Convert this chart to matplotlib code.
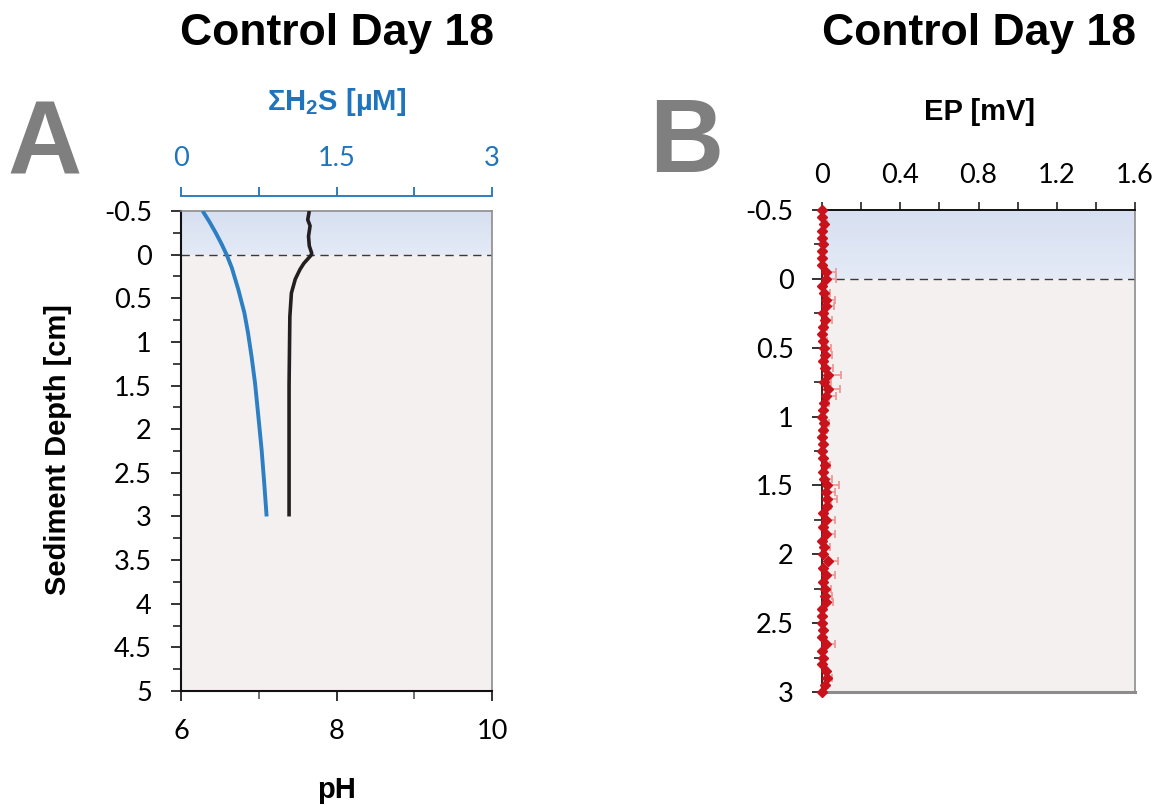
import numpy as np
import matplotlib
matplotlib.use("Agg")
import matplotlib.pyplot as plt
from matplotlib.colors import LinearSegmentedColormap

plt.rcParams["font.family"] = ["Lato", "DejaVu Sans"]
plt.rcParams["axes.unicode_minus"] = False
plt.rcParams["mathtext.fontset"] = "custom"
plt.rcParams["mathtext.rm"] = "Liberation Sans:bold"
plt.rcParams["mathtext.bf"] = "Liberation Sans:bold"
plt.rcParams["mathtext.default"] = "bf"

BOLD = "Liberation Sans"
BLUE = "#1f74bb"
LINE_BLUE = "#2b7fc2"
GRAY_SPINE = "#8c8c8c"
WATER_TOP = "#d7e0f1"
WATER_BOT = "#e4eaf6"
SED = "#f4f0ef"
TICK_FS = 19.5

# ── panel A data ──
h2s_depth = [-0.5, -0.375, -0.25, -0.125, 0.0, 0.15, 0.4, 0.67, 0.9, 1.17, 1.47, 1.85, 2.24, 2.62, 3.0]
h2s_conc = [0.209, 0.275, 0.335, 0.39, 0.44, 0.49, 0.553, 0.612, 0.647, 0.681, 0.714, 0.746, 0.778, 0.803, 0.826]

ph_depth = [-0.5, -0.4, -0.33, -0.21, -0.1, -0.02, 0.0, 0.04, 0.1, 0.17, 0.28, 0.44, 0.71, 1.5, 3.0]
ph_val = [7.65, 7.63, 7.66, 7.64, 7.65, 7.68, 7.68, 7.64, 7.58, 7.53, 7.47, 7.42, 7.40, 7.39, 7.39]

# ── panel B data ──
ep_depth = [-0.50, -0.45, -0.40, -0.35, -0.30, -0.25, -0.20, -0.15, -0.10, -0.05,
            0.00, 0.05, 0.10, 0.15, 0.20, 0.25, 0.30, 0.35, 0.40, 0.45,
            0.50, 0.55, 0.60, 0.65, 0.70, 0.75, 0.80, 0.85, 0.90, 0.95,
            1.00, 1.05, 1.10, 1.15, 1.20, 1.25, 1.30, 1.35, 1.40, 1.45,
            1.50, 1.55, 1.60, 1.65, 1.70, 1.75, 1.80, 1.85, 1.90, 1.95,
            2.00, 2.05, 2.10, 2.15, 2.20, 2.25, 2.30, 2.35, 2.40, 2.45,
            2.50, 2.55, 2.60, 2.65, 2.70, 2.75, 2.80, 2.85, 2.90, 2.95, 3.00]
ep_val = [0.000, 0.000, 0.012, 0.000, 0.000, 0.003, 0.000, 0.000, 0.000, 0.020,
          0.020, 0.000, 0.012, 0.020, 0.019, 0.007, 0.017, 0.007, 0.000, 0.007,
          0.012, 0.015, 0.003, 0.015, 0.030, 0.012, 0.029, 0.020, 0.010, 0.003,
          0.000, 0.010, 0.007, 0.000, 0.003, 0.000, 0.007, 0.015, 0.007, 0.012,
          0.024, 0.022, 0.025, 0.024, 0.005, 0.020, 0.003, 0.020, 0.000, 0.012,
          0.003, 0.029, 0.003, 0.020, 0.007, 0.015, 0.015, 0.019, 0.000, 0.000,
          0.000, 0.003, 0.000, 0.020, 0.000, 0.003, 0.000, 0.020, 0.027, 0.017, 0.000]
ep_err = [0.000, 0.000, 0.012, 0.000, 0.000, 0.005, 0.000, 0.000, 0.000, 0.050,
          0.050, 0.000, 0.029, 0.049, 0.044, 0.020, 0.034, 0.020, 0.000, 0.020,
          0.034, 0.034, 0.010, 0.042, 0.069, 0.032, 0.063, 0.054, 0.027, 0.010,
          0.000, 0.027, 0.020, 0.000, 0.010, 0.000, 0.010, 0.025, 0.010, 0.037,
          0.061, 0.044, 0.053, 0.020, 0.005, 0.046, 0.005, 0.049, 0.000, 0.029,
          0.010, 0.054, 0.005, 0.049, 0.010, 0.029, 0.036, 0.039, 0.000, 0.000,
          0.000, 0.005, 0.000, 0.049, 0.000, 0.005, 0.000, 0.012, 0.024, 0.015, 0.000]

W, H = 1164, 808
fig = plt.figure(figsize=(W / 100, H / 100), dpi=100)


def px_rect(l, t, r, b):
    return [l / W, 1 - b / H, (r - l) / W, (b - t) / H]


def backdrop(ax, x0, x1, y_bottom):
    cmap = LinearSegmentedColormap.from_list("water", [WATER_TOP, WATER_BOT])
    grad = np.linspace(0, 1, 64).reshape(-1, 1)
    ax.imshow(grad, cmap=cmap, aspect="auto", extent=[x0, x1, 0, -0.5],
              origin="upper", zorder=0)
    ax.axhspan(0, y_bottom, color=SED, zorder=0, lw=0)
    ax.axhline(0, color="#3a3a3a", lw=1.0, ls=(0, (6, 4)), zorder=1)


def depth_ticks(ax, top, bottom):
    major = np.arange(top, bottom + 0.01, 0.5)
    minor = np.arange(top + 0.25, bottom, 0.5)
    ax.set_yticks(major)
    ax.set_yticklabels(["%g" % v for v in major])
    ax.set_yticks(minor, minor=True)
    ax.tick_params(axis="y", which="major", length=7, width=1.4)
    ax.tick_params(axis="y", which="minor", length=5.5, width=1.3, color="#555555")


# ── Panel A ──
axA = fig.add_axes(px_rect(181, 211, 492, 691))
backdrop(axA, 6, 10, 5)
axA.plot(ph_val, ph_depth, color="#231f20", lw=2.6, zorder=3, solid_capstyle="butt")
axA.set_xlim(6, 10)
axA.set_ylim(5, -0.5)
axA.set_xticks([6, 8, 10])
axA.set_xticks([7, 9], minor=True)
depth_ticks(axA, -0.5, 5)
axA.tick_params(axis="both", which="both", labelsize=TICK_FS, color="#333333")
axA.tick_params(axis="x", which="major", length=7, width=1.4, pad=13.5)
axA.tick_params(axis="x", which="minor", length=6, width=1.3, color="#666666")
axA.tick_params(axis="y", which="major", pad=14)
for s in ("left", "bottom"):
    axA.spines[s].set_color("#111111")
    axA.spines[s].set_linewidth(1.5)
for s in ("top", "right"):
    axA.spines[s].set_color(GRAY_SPINE)
    axA.spines[s].set_linewidth(1.2)

axT = axA.twiny()
axT.plot(h2s_conc, h2s_depth, color=LINE_BLUE, lw=2.8, zorder=3, solid_capstyle="butt")
axT.set_xlim(0, 3)
axT.set_ylim(5, -0.5)
axT.set_xticks([0, 1.5, 3])
axT.set_xticklabels(["0", "1.5", "3"])
axT.set_xticks([0.75, 2.25], minor=True)
axT.spines["top"].set_position(("outward", 10.8))
axT.spines["top"].set_color(BLUE)
axT.spines["top"].set_linewidth(1.3)
for s in ("left", "right", "bottom"):
    axT.spines[s].set_visible(False)
axT.tick_params(axis="x", which="both", colors=BLUE, labelsize=TICK_FS, length=6.5,
                width=1.3, pad=11.5)
axT.patch.set_visible(False)

# ── Panel B ──
axB = fig.add_axes(px_rect(822, 210, 1135, 692))
backdrop(axB, 0, 1.6, 3)
axB.errorbar(ep_val, ep_depth, xerr=[np.zeros(len(ep_err)), ep_err], fmt="D",
             color="#c8121c", ms=4.8, mec="#c8121c", ecolor="#eb9392",
             elinewidth=1.2, capsize=2.6, capthick=1.2, zorder=4, clip_on=False)
axB.set_xlim(0, 1.6)
axB.set_ylim(3, -0.5)
axB.xaxis.tick_top()
axB.set_xticks([0, 0.4, 0.8, 1.2, 1.6])
axB.set_xticklabels(["0", "0.4", "0.8", "1.2", "1.6"])
axB.set_xticks([0.2, 0.6, 1.0, 1.4], minor=True)
depth_ticks(axB, -0.5, 3)
axB.tick_params(axis="both", which="both", labelsize=TICK_FS, color="#333333")
axB.tick_params(axis="x", which="both", length=6, width=1.3, pad=10)
axB.tick_params(axis="y", which="major", pad=13.5)
axB.spines["left"].set_color("#5a1616")
axB.spines["left"].set_linewidth(1.4)
axB.spines["top"].set_color("#111111")
axB.spines["top"].set_linewidth(1.4)
axB.spines["right"].set_color(GRAY_SPINE)
axB.spines["right"].set_linewidth(1.2)
axB.spines["bottom"].set_color(GRAY_SPINE)
axB.spines["bottom"].set_linewidth(2.2)

# ── titles and labels ──
for cx in (336.5, 978.5):
    fig.text(cx / W, 1 - 33 / H, "Control Day 18", ha="center", va="center",
             fontsize=32, fontweight="bold", family=BOLD)
fig.text(45 / W, 1 - 147 / H, "A", ha="center", va="center", fontsize=74,
         fontweight="bold", family=BOLD, color="#7f7f7f")
fig.text(686 / W, 1 - 145 / H, "B", ha="center", va="center", fontsize=74,
         fontweight="bold", family=BOLD, color="#7f7f7f")
fig.text(337 / W, 1 - 102 / H, r"ΣH$_2$S [µM]", ha="center", va="center",
         fontsize=21, fontweight="bold", family=BOLD, color=BLUE)
fig.text(979 / W, 1 - 112 / H, "EP [mV]", ha="center", va="center",
         fontsize=21, fontweight="bold", family=BOLD)
fig.text(337 / W, 1 - 790 / H, "pH", ha="center", va="center",
         fontsize=21, fontweight="bold", family=BOLD)
fig.text(58 / W, 1 - 450 / H, "Sediment Depth [cm]", ha="center", va="center",
         rotation=90, fontsize=21, fontweight="bold", family=BOLD)

fig.savefig("out.png", dpi=100, facecolor="white")
